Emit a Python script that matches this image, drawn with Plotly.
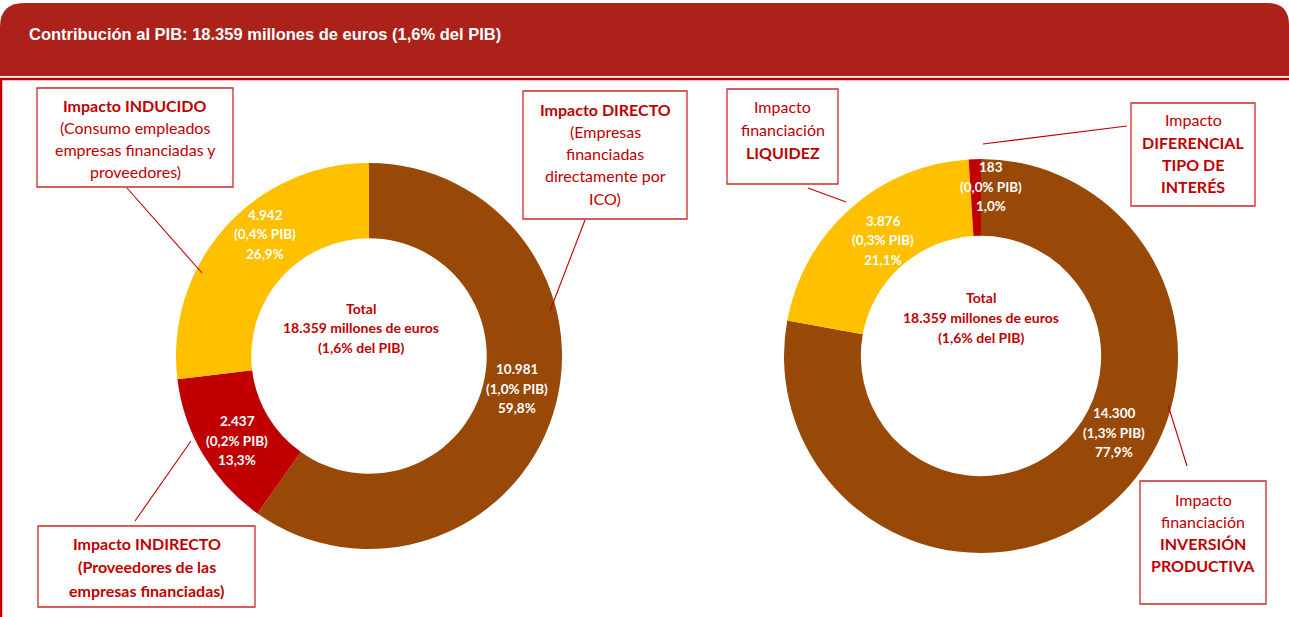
import plotly.graph_objects as go

W, H = 1289, 617

# ---------------- data ----------------
title_text = "Contribución al PIB: 18.359 millones de euros (1,6% del PIB)"
total_value = 18359
total_pib = 1.6

left_labels = ["Impacto DIRECTO", "Impacto INDIRECTO", "Impacto INDUCIDO"]
left_values = [10981, 2437, 4942]
left_pib = [1.0, 0.2, 0.4]

right_labels = ["Impacto financiación INVERSIÓN PRODUCTIVA", "Impacto financiación LIQUIDEZ",
                "Impacto DIFERENCIAL TIPO DE INTERÉS"]
right_values = [14300, 3876, 183]
right_pib = [1.3, 0.3, 0.0]

BROWN, RED, YELLOW = "#984807", "#C00000", "#FFC000"
left_colors = [BROWN, RED, YELLOW]
right_colors = [BROWN, YELLOW, RED]

TXT = "#C00000"
FONT = "Lato, Carlito, 'Open Sans', sans-serif"


def fx(x):
    return x / W


def fy(y):
    return 1 - y / H


def es_num(v):
    return f"{v:,}".replace(",", ".")


def es_pct(p):
    return f"{p:.1f}".replace(".", ",")


fig = go.Figure()


def add_donut(values, labels, colors, cx, cy, r):
    fig.add_trace(go.Pie(
        values=values, labels=labels, sort=False, direction="clockwise", rotation=0,
        hole=0.61, textinfo="none", hoverinfo="label+value+percent",
        marker=dict(colors=colors, line=dict(width=0)),
        domain=dict(x=[fx(cx - r), fx(cx + r)], y=[fy(cy + r), fy(cy - r)]),
        showlegend=False,
    ))


add_donut(left_values, left_labels, left_colors, 369, 356, 193)
add_donut(right_values, right_labels, right_colors, 981, 356, 197)

annotations = []
shapes = []


def text_lines(cx, y0, lines, spacing, size, color, bold=None):
    for i, t in enumerate(lines):
        b = bold[i] if bold is not None else False
        annotations.append(dict(
            x=fx(cx), y=fy(y0 + i * spacing), xref="paper", yref="paper",
            text=f"<b>{t}</b>" if b else t, showarrow=False,
            xanchor="center", yanchor="middle",
            font=dict(family=FONT, size=size, color=color),
        ))


def slice_label(values, pib, idx, cx, y0):
    tot = sum(values)
    lines = [es_num(values[idx]), f"({es_pct(pib[idx])}% PIB)", f"{es_pct(values[idx] / tot * 100)}%"]
    text_lines(cx, y0, lines, 19.5, 13.5, "white", [True] * 3)


# slice labels
slice_label(left_values, left_pib, 0, 517, 369)
slice_label(left_values, left_pib, 1, 237, 421)
slice_label(left_values, left_pib, 2, 265, 215)
slice_label(right_values, right_pib, 0, 1114, 413)
slice_label(right_values, right_pib, 1, 883, 221)
slice_label(right_values, right_pib, 2, 991, 167)

# center totals
center_lines = ["Total", f"{es_num(total_value)} millones de euros", f"({es_pct(total_pib)}% del PIB)"]
text_lines(361, 308, center_lines, 19.5, 14, TXT, [True] * 3)
text_lines(981, 298, center_lines, 19.5, 14, TXT, [True] * 3)

# callout boxes: (x0, y0, x1, y1, first line y, spacing, lines, bold flags)
boxes = [
    (37, 88, 233, 187, 105, 22.3,
     ["Impacto INDUCIDO", "(Consumo empleados", "empresas financiadas y", "proveedores)"],
     [True, False, False, False]),
    (523, 91, 687, 219, 109, 22.3,
     ["Impacto DIRECTO", "(Empresas", "financiadas", "directamente por", "ICO)"],
     [True, False, False, False, False]),
    (38, 526, 255, 607, 543, 23.5,
     ["Impacto INDIRECTO", "(Proveedores de las", "empresas financiadas)"],
     [True, True, True]),
    (727, 89, 838, 184, 107, 22.5,
     ["Impacto", "financiación", "LIQUIDEZ"],
     [False, False, True]),
    (1131, 103, 1255, 206, 120, 22.3,
     ["Impacto", "DIFERENCIAL", "TIPO DE", "INTERÉS"],
     [False, True, True, True]),
    (1140, 481, 1266, 604, 499, 22.0,
     ["Impacto", "financiación", "INVERSIÓN", "PRODUCTIVA"],
     [False, False, True, True]),
]
for x0, y0, x1, y1, ly, sp, lines, bold in boxes:
    shapes.append(dict(type="rect", xref="paper", yref="paper",
                       x0=fx(x0), x1=fx(x1), y0=fy(y1), y1=fy(y0),
                       line=dict(color="#CC2A2A", width=1.3), fillcolor="white", layer="above"))
    text_lines((x0 + x1) / 2, ly, lines, sp, 16, TXT, bold)

# leader lines
leaders = [
    ((127, 188), (202, 273)),
    ((585, 220), (550, 311)),
    ((135, 521), (191, 441)),
    ((808, 188), (846, 202)),
    ((983, 144), (1127, 126)),
    ((1187, 466), (1168, 405)),
]
for (ax, ay), (bx, by) in leaders:
    shapes.append(dict(type="line", xref="paper", yref="paper",
                       x0=fx(ax), y0=fy(ay), x1=fx(bx), y1=fy(by),
                       line=dict(color="#C00000", width=1.1), layer="above"))

# header band with rounded top corners
rl, rr = 24, 22
top, bot = 3, 76
path = (f"M {fx(0)},{fy(bot)} L {fx(0)},{fy(top + rl)} "
        f"Q {fx(0)},{fy(top)} {fx(rl)},{fy(top)} "
        f"L {fx(W - rr)},{fy(top)} Q {fx(W)},{fy(top)} {fx(W)},{fy(top + rr)} "
        f"L {fx(W)},{fy(bot)} Z")
shapes.append(dict(type="path", xref="paper", yref="paper", path=path,
                   fillcolor="#AC211A", line=dict(width=0), layer="below"))
shapes.append(dict(type="line", xref="paper", yref="paper",
                   x0=0, x1=1, y0=fy(79), y1=fy(79),
                   line=dict(color="#C00000", width=2.5), layer="below"))
shapes.append(dict(type="line", xref="paper", yref="paper",
                   x0=fx(1), x1=fx(1), y0=fy(79), y1=0,
                   line=dict(color="#C00000", width=2.5), layer="below"))

annotations.append(dict(
    x=fx(27), y=fy(34), xref="paper", yref="paper", showarrow=False,
    xanchor="left", yanchor="middle", text=f"<b>{title_text}</b>",
    font=dict(family="'Liberation Sans Narrow', 'Arial Narrow', 'Liberation Sans', sans-serif",
              size=16.5, color="white"),
))

fig.update_layout(
    width=W, height=H, autosize=False,
    margin=dict(l=0, r=0, t=0, b=0),
    paper_bgcolor="white", plot_bgcolor="white",
    shapes=shapes, annotations=annotations,
)

fig.write_html("out.html", config={"displayModeBar": False},
               post_script="document.body.style.margin='0';document.body.style.overflow='hidden';")
